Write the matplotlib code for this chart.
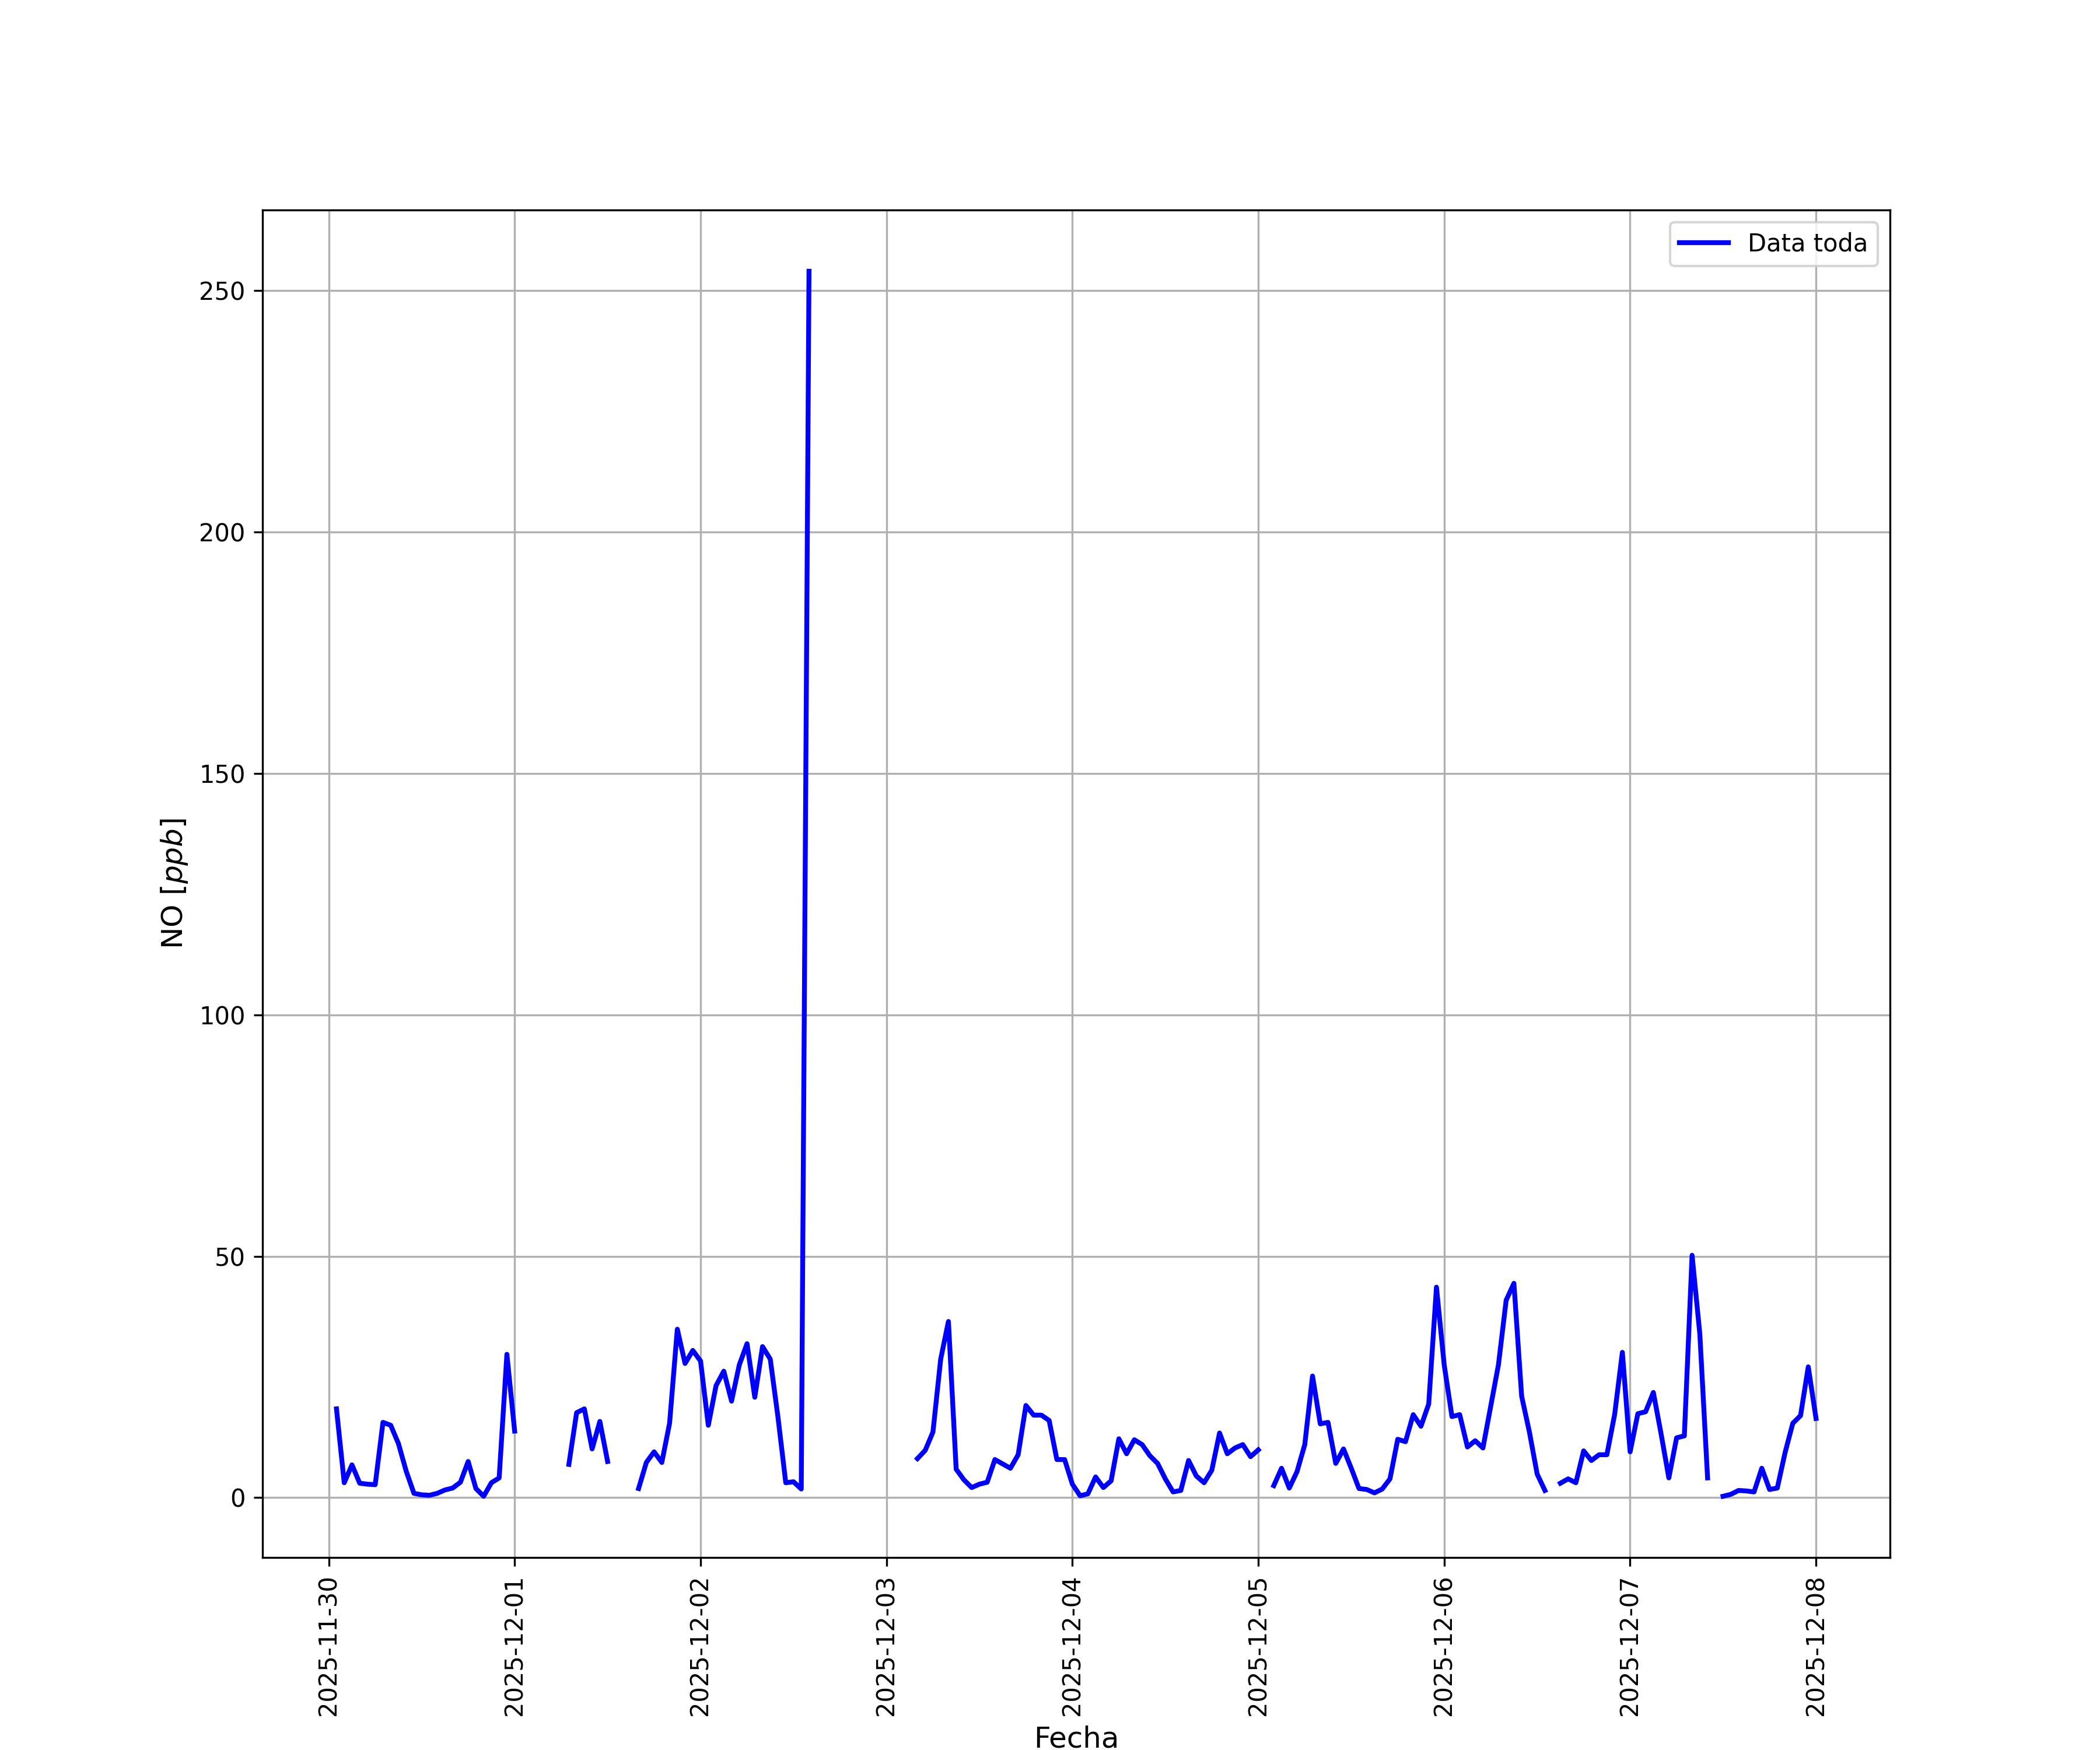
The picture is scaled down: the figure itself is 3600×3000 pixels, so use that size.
import numpy as np
import pandas as pd
import matplotlib
matplotlib.use("Agg")
import matplotlib.pyplot as plt

nan = np.nan

# hourly NO values, one list per day (hours 00..23)
d_1130 = [nan, 18.4, 3.1, 6.8, 3.0, 2.8, 2.7, 15.6, 15.0, 11.2, 5.5, 0.9,
          0.6, 0.5, 0.9, 1.6, 2.0, 3.2, 7.5, 1.9, 0.3, 3.1, 4.1, 29.7]
d_1201 = [13.8, nan, nan, nan, nan, nan, nan, 6.9, 17.6, 18.4, 10.1, 15.8,
          7.5, nan, nan, nan, 1.9, 7.3, 9.5, 7.3, 15.4, 34.9, 27.8, 30.5]
d_1202 = [28.3, 15.0, 23.2, 26.2, 20.0, 27.5, 31.9, 20.8, 31.3, 28.7, 16.6, 3.1,
          3.3, 1.8, 254.0, nan, nan, nan, nan, nan, nan, nan, nan, nan]
d_1203 = [nan, nan, nan, nan, 8.1, 9.8, 13.6, 28.7, 36.5, 5.9, 3.7, 2.1,
          2.8, 3.2, 7.9, 7.0, 6.1, 8.9, 19.1, 17.1, 17.1, 16.0, 7.9, 7.9]
d_1204 = [2.8, 0.4, 0.8, 4.3, 2.1, 3.5, 12.2, 9.1, 12.0, 11.0, 8.7, 7.1,
          3.9, 1.2, 1.5, 7.7, 4.5, 3.1, 5.7, 13.4, 9.1, 10.3, 11.0, 8.5]
d_1205 = [9.9, nan, 2.5, 6.1, 2.0, 5.4, 11.0, 25.2, 15.3, 15.6, 7.1, 10.1,
          6.1, 1.9, 1.7, 1.0, 1.8, 3.9, 12.1, 11.6, 17.2, 14.8, 19.4, 43.6]
d_1206 = [27.5, 16.8, 17.2, 10.5, 11.8, 10.3, 18.9, 27.5, 40.9, 44.4, 21.0, 13.6,
          4.9, 1.5, nan, 3.0, 3.9, 3.1, 9.7, 7.7, 8.9, 8.9, 17.2, 30.1]
d_1207 = [9.5, 17.4, 17.8, 21.8, 13.2, 4.1, 12.4, 12.8, 50.2, 33.9, 4.1, nan,
          0.3, 0.7, 1.5, 1.4, 1.2, 6.1, 1.7, 2.0, 9.3, 15.4, 17.0, 27.1]
d_1208 = [16.4]

valores = (d_1130 + d_1201 + d_1202 + d_1203 + d_1204 + d_1205 + d_1206
           + d_1207 + d_1208)
fechas = pd.date_range("2025-11-30 00:00", periods=len(valores), freq="h")
serie = pd.Series(valores, index=fechas).iloc[1:]

fig, ax = plt.subplots(figsize=(12, 10), dpi=300)
ax.plot(serie.index, serie.values, color="blue", lw=2, label="Data toda")
ax.set_xlabel("Fecha", fontsize=12)
ax.set_ylabel("NO $[ppb]$", fontsize=12)
ax.grid(True)
ax.legend(loc="upper right")
plt.setp(ax.get_xticklabels(), rotation=90)

fig.savefig("out.png", dpi=300)
